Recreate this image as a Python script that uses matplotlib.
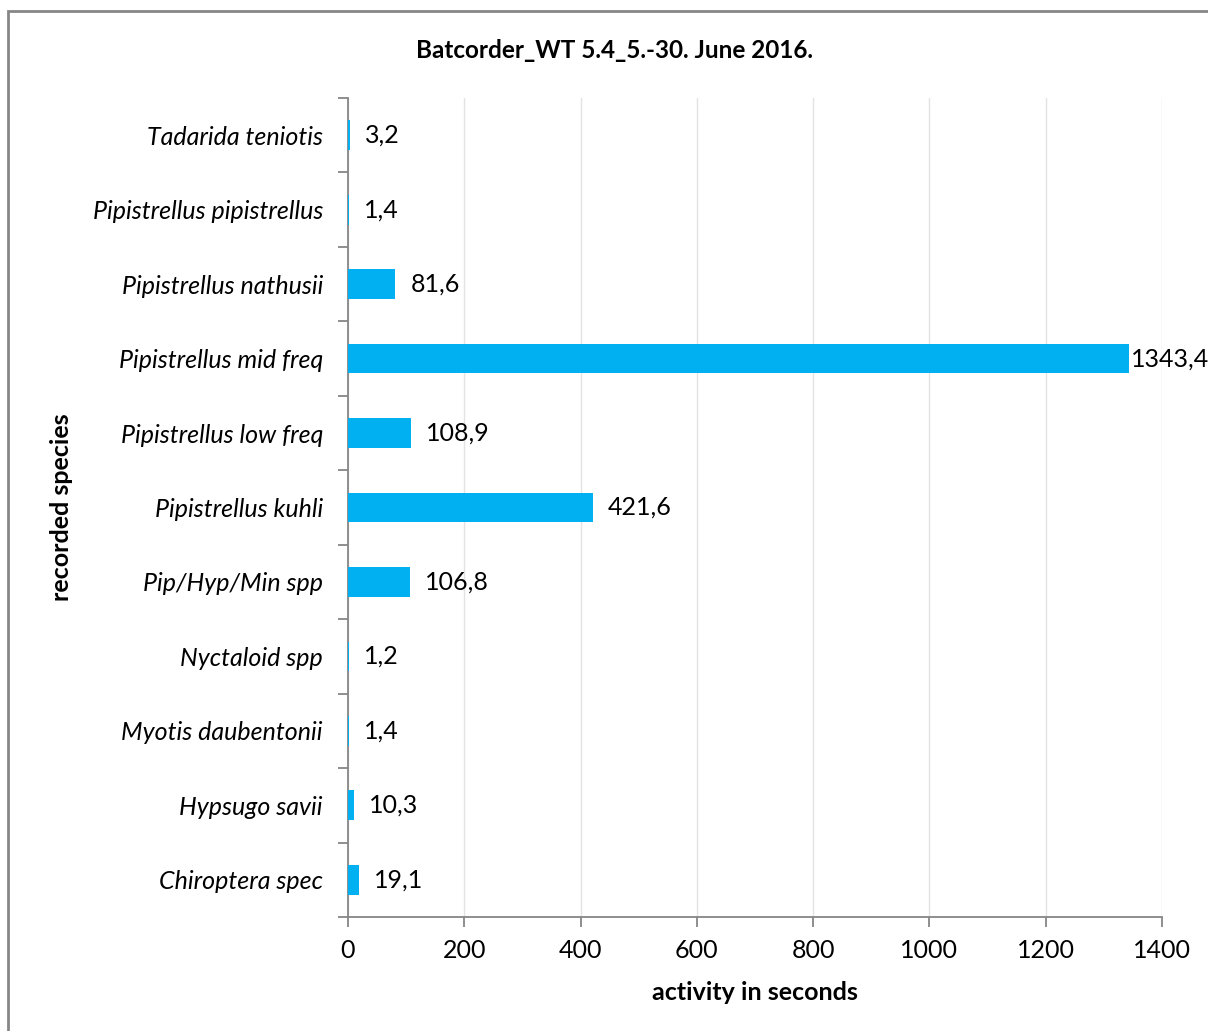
import matplotlib
matplotlib.use("Agg")
import matplotlib.pyplot as plt
from matplotlib.patches import Rectangle
from matplotlib.ticker import MultipleLocator

plt.rcParams['font.family'] = ['Lato', 'DejaVu Sans']

species = ["Chiroptera spec", "Hypsugo savii", "Myotis daubentonii", "Nyctaloid spp",
           "Pip/Hyp/Min spp", "Pipistrellus kuhli", "Pipistrellus low freq",
           "Pipistrellus mid freq", "Pipistrellus nathusii", "Pipistrellus pipistrellus",
           "Tadarida teniotis"]
values = [19.1, 10.3, 1.4, 1.2, 106.8, 421.6, 108.9, 1343.4, 81.6, 1.4, 3.2]
value_labels = ["19,1", "10,3", "1,4", "1,2", "106,8", "421,6", "108,9", "1343,4", "81,6", "1,4", "3,2"]
xticks = [0, 200, 400, 600, 800, 1000, 1200, 1400]

title = "Batcorder_WT 5.4_5.-30. June 2016."
xlabel = "activity in seconds"
ylabel = "recorded species"

bar_color = "#00B0F0"
axis_gray = "#868686"
grid_gray = "#E3E3E3"

fs = 18

fig = plt.figure(figsize=(12.08, 10.31), dpi=100)
ax = fig.add_axes([348/1208, 1 - 917/1031, (1162-348)/1208, (917-98)/1031])

y = list(range(len(species)))
ax.barh(y, values, height=0.4, color=bar_color, zorder=3)
ax.set_ylim(-0.5, len(species) - 0.5)
ax.set_xlim(0, 1400)
ax.set_xticks(xticks)
ax.set_xticklabels([str(t) for t in xticks])
ax.set_yticks(y)
ax.set_yticklabels(species, fontstyle='italic')
ax.yaxis.set_minor_locator(MultipleLocator(1, offset=0.5))

ax.tick_params(axis='y', which='major', length=0, pad=18, labelsize=fs)
ax.tick_params(axis='y', which='minor', length=7, color=axis_gray, width=1.3)
ax.tick_params(axis='x', which='major', length=7, color=axis_gray, width=1.3, pad=9, labelsize=fs)

ax.grid(axis='x', color=grid_gray, linewidth=1, zorder=0)
for s in ['top', 'right']:
    ax.spines[s].set_visible(False)
for s in ['left', 'bottom']:
    ax.spines[s].set_color(axis_gray)
    ax.spines[s].set_linewidth(1.3)

for yi, v, lab in zip(y, values, value_labels):
    off = 1.5 if v > 0.9 * 1400 else 15
    ax.annotate(lab, (v, yi), xytext=(off * 0.72, 0), textcoords='offset points',
                va='center', ha='left', fontsize=fs, clip_on=False, annotation_clip=False)

ax.set_xlabel(xlabel, fontsize=fs, fontweight='bold')
ax.xaxis.set_label_coords(0.5, -(992 - 917) / (917 - 98))
ax.xaxis.label.set_va('center')
ax.set_ylabel(ylabel, fontsize=fs, fontweight='bold')
ax.yaxis.set_label_coords(-(348 - 62) / (1162 - 348), 0.5)
ax.yaxis.label.set_va('center')

fig.text(614/1208, 1 - 50/1031, title, ha='center', va='center', fontsize=17.5, fontweight='bold')

fig.patches.append(Rectangle((8/1208, -0.1), 1.2, 1 - 11/1031 + 0.1, transform=fig.transFigure,
                             fill=False, edgecolor=axis_gray, linewidth=2))

fig.savefig("out.png", dpi=100)
